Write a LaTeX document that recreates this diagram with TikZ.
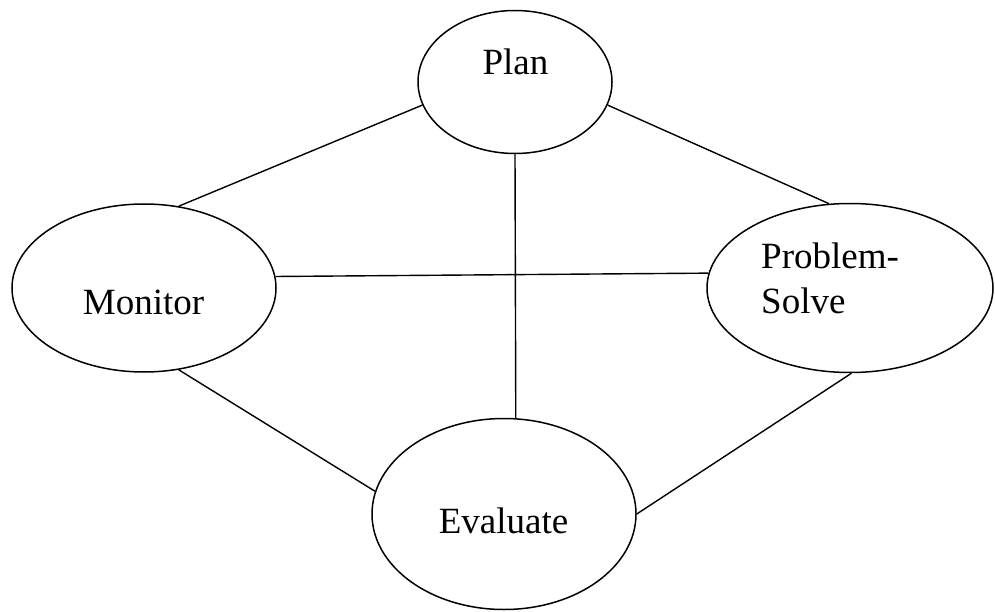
\documentclass[tikz,border=0pt]{standalone}
\usepackage{fontspec}
\setmainfont{Liberation Serif}
\usetikzlibrary{shapes.geometric}
\begin{document}
\begin{tikzpicture}[x=1pt,y=-1pt,
  oval/.style={draw=black,line width=1.5pt,ellipse,inner sep=0pt},
  lbl/.style={inner sep=0pt,font=\fontsize{37}{44}\selectfont},
  link/.style={draw=black,line width=1.4pt}]
\useasboundingbox (0,0) rectangle (995,612);
\node[oval,minimum width=194pt,minimum height=143pt] (plan) at (515,82) {};
\node[oval,minimum width=264pt,minimum height=168pt] (mon) at (144,288) {};
\node[oval,minimum width=286pt,minimum height=169pt] (ps) at (850,288) {};
\node[oval,minimum width=264pt,minimum height=191pt] (eval) at (504,514) {};
\node[lbl,anchor=base] (tplan) at (515.5,75) {Plan};
\node[lbl,anchor=base] (tmon) at (143.5,314) {Monitor};
\node[lbl,anchor=base] (teval) at (503.5,533) {Evaluate};
\node[lbl,anchor=base west] (tps1) at (761,269) {Problem-};
\node[lbl,anchor=base west] (tps2) at (761,313) {Solve};
\draw[link] (plan.194.5) -- (mon.67);
\draw[link] (plan.-14.5) -- (ps.104.5);
\draw[link] (plan.270) -- (eval.83.4);
\draw[link] (mon.5.6) -- (ps.174.5);
\draw[link] (mon.293) -- (eval.170.5);
\draw[link] (ps.271.4) -- (eval.-0.4);
\end{tikzpicture}
\end{document}
